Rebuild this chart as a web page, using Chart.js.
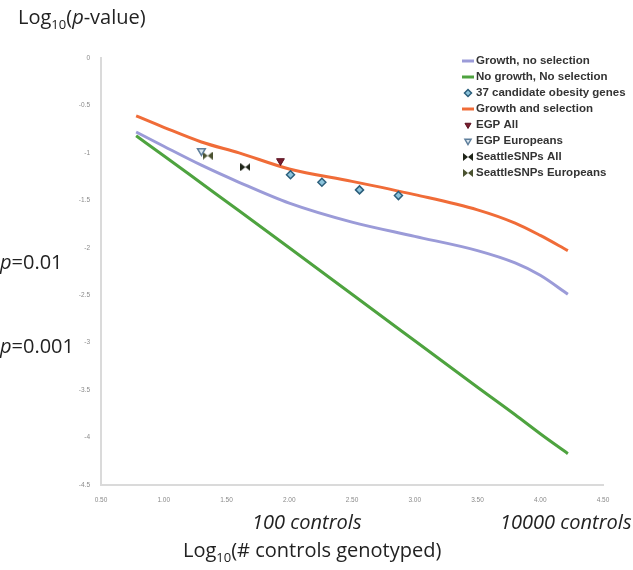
<!DOCTYPE html>
<html>
<head>
<meta charset="utf-8">
<script src="https://cdn.jsdelivr.net/npm/chart.js@4"></script>
<style>
  body { margin: 0; background: #fff; }
  #wrap { position: relative; width: 633px; height: 570px; font-family: "Open Sans", sans-serif; color: #222; }
  #chart { position: absolute; left: 0; top: 0; }
  .lbl { position: absolute; font-size: 20px; line-height: 24px; white-space: nowrap; }
  .lbl sub { font-size: 13px; vertical-align: -5px; line-height: 0; }
</style>
</head>
<body>
<div id="wrap">
  <canvas id="chart" width="633" height="570"></canvas>
  <div class="lbl" style="left:18px;top:5px">Log<sub>10</sub>(<i>p</i>-value)</div>
  <div class="lbl" style="left:0px;top:250px"><i>p</i>=0.01</div>
  <div class="lbl" style="left:0px;top:334px"><i>p</i>=0.001</div>
  <div class="lbl" style="left:252px;top:510px"><i>100 controls</i></div>
  <div class="lbl" style="left:500px;top:510px"><i>10000 controls</i></div>
  <div class="lbl" style="left:183px;top:538px">Log<sub>10</sub>(# controls genotyped)</div>
</div>
<script>
// log10(# controls) on x, log10(p-value) on y
const curveX = [0.78, 1.0, 1.3, 1.6, 2.0, 2.5, 3.0, 3.5, 3.8, 4.0, 4.22];
const growthNoSel = [-0.78, -0.93, -1.13, -1.31, -1.53, -1.73, -1.88, -2.03, -2.16, -2.29, -2.49];
const noGrowthNoSel = [-0.82, -1.03, -1.32, -1.61, -2.0, -2.49, -2.98, -3.47, -3.76, -3.96, -4.17];
const growthSel = [-0.61, -0.73, -0.885, -1.0, -1.17, -1.30, -1.44, -1.60, -1.74, -1.87, -2.03];

const geneX = [2.01, 2.26, 2.56, 2.87];
const geneY = [-1.23, -1.31, -1.39, -1.45];

const egpAll = [1.93, -1.085];
const egpEur = [1.30, -0.98];
const snpAll = [1.65, -1.15];
const snpEur = [1.35, -1.03];

const xTicks = [0.5, 1.0, 1.5, 2.0, 2.5, 3.0, 3.5, 4.0, 4.5];
const yTicks = [0, -0.5, -1, -1.5, -2, -2.5, -3, -3.5, -4, -4.5];

const pairs = (xs, ys) => xs.map((x, i) => ({ x: x, y: ys[i] }));

// small bowtie marker for the SeattleSNPs points
function bowtie(color) {
  const c = document.createElement("canvas");
  c.width = 10;
  c.height = 8;
  const g = c.getContext("2d");
  g.fillStyle = color;
  g.beginPath();
  g.moveTo(0, 0); g.lineTo(5, 4); g.lineTo(0, 8); g.closePath();
  g.moveTo(10, 0); g.lineTo(5, 4); g.lineTo(10, 8); g.closePath();
  g.fill();
  return c;
}

function lineSet(label, ys, color) {
  return {
    label: label,
    data: pairs(curveX, ys),
    showLine: true,
    borderColor: color,
    backgroundColor: color,
    borderWidth: 3,
    pointRadius: 0,
    cubicInterpolationMode: "monotone",
    order: 2,
  };
}

function pointSet(label, pts, style) {
  return Object.assign({ label: label, data: pts, showLine: false, order: 1 }, style);
}

// legend drawn inside the plot, top right
const legendBox = {
  id: "legendBox",
  afterDraw(chart) {
    const ctx = chart.ctx;
    ctx.save();
    ctx.textBaseline = "middle";
    chart.data.datasets.forEach((ds, i) => {
      const y = 61 + i * 16;
      if (ds.showLine) {
        ctx.strokeStyle = ds.borderColor;
        ctx.lineWidth = 3;
        ctx.beginPath();
        ctx.moveTo(462, y);
        ctx.lineTo(474, y);
        ctx.stroke();
      } else if (typeof ds.pointStyle === "string") {
        ctx.fillStyle = ds.backgroundColor;
        ctx.strokeStyle = ds.borderColor;
        ctx.lineWidth = ds.borderWidth;
        Chart.helpers.drawPoint(ctx, {
          pointStyle: ds.pointStyle,
          radius: 3.5,
          rotation: ds.rotation || 0,
          borderWidth: ds.borderWidth,
        }, 468, y);
      } else {
        ctx.drawImage(ds.pointStyle, 463, y - 4);
      }
      ctx.font = 'bold 11.5px "Liberation Sans", Arial, sans-serif';
      ctx.fillStyle = "#333";
      ctx.fillText(ds.label, 476, y);
    });
    ctx.restore();
  },
};

const chart = new Chart(document.getElementById("chart"), {
  type: "scatter",
  data: {
    datasets: [
      lineSet("Growth, no selection", growthNoSel, "#9b9bd8"),
      lineSet("No growth, No selection", noGrowthNoSel, "#4ea33f"),
      pointSet("37 candidate obesity genes", pairs(geneX, geneY), {
        pointStyle: "rectRot",
        pointRadius: 4,
        backgroundColor: "#8cc4dc",
        borderColor: "#2c5f7c",
        borderWidth: 1.5,
      }),
      lineSet("Growth and selection", growthSel, "#f06c38"),
      pointSet("EGP All", [{ x: egpAll[0], y: egpAll[1] }], {
        pointStyle: "triangle",
        rotation: 180,
        pointRotation: 180,
        pointRadius: 4.5,
        backgroundColor: "#7a1e2e",
        borderColor: "#5a1020",
        borderWidth: 1,
      }),
      pointSet("EGP Europeans", [{ x: egpEur[0], y: egpEur[1] }], {
        pointStyle: "triangle",
        rotation: 180,
        pointRotation: 180,
        pointRadius: 4.5,
        backgroundColor: "#dce8f0",
        borderColor: "#5f7f9c",
        borderWidth: 1.5,
      }),
      pointSet("SeattleSNPs All", [{ x: snpAll[0], y: snpAll[1] }], {
        pointStyle: bowtie("#1e2418"),
        backgroundColor: "#1e2418",
        borderColor: "#1e2418",
        borderWidth: 1,
      }),
      pointSet("SeattleSNPs Europeans", [{ x: snpEur[0], y: snpEur[1] }], {
        pointStyle: bowtie("#4a5230"),
        backgroundColor: "#4a5230",
        borderColor: "#4a5230",
        borderWidth: 1,
      }),
    ],
  },
  options: {
    responsive: false,
    animation: false,
    devicePixelRatio: 1,
    layout: { padding: { left: 0, top: 58, right: 30, bottom: 0 } },
    plugins: {
      legend: { display: false },
      tooltip: { enabled: false },
    },
    scales: {
      x: {
        type: "linear",
        min: 0.5,
        max: 4.5,
        afterFit: (scale) => { scale.height = 85; },
        afterBuildTicks: (scale) => { scale.ticks = xTicks.map((v) => ({ value: v })); },
        grid: { display: false },
        border: { display: true, color: "#dadada", width: 2 },
        ticks: {
          padding: 3,
          color: "#8a8a8a",
          font: { size: 6.5, family: "Liberation Sans" },
          callback: (v) => Number(v).toFixed(2),
        },
      },
      y: {
        type: "linear",
        min: -4.5,
        max: 0,
        afterFit: (scale) => { scale.width = 101; },
        afterBuildTicks: (scale) => { scale.ticks = yTicks.map((v) => ({ value: v })); },
        grid: { display: false },
        border: { display: true, color: "#dadada", width: 2 },
        ticks: {
          padding: 3,
          color: "#8a8a8a",
          font: { size: 6.5, family: "Liberation Sans" },
          callback: (v) => String(v),
        },
      },
    },
  },
  plugins: [legendBox],
});
</script>
</body>
</html>
